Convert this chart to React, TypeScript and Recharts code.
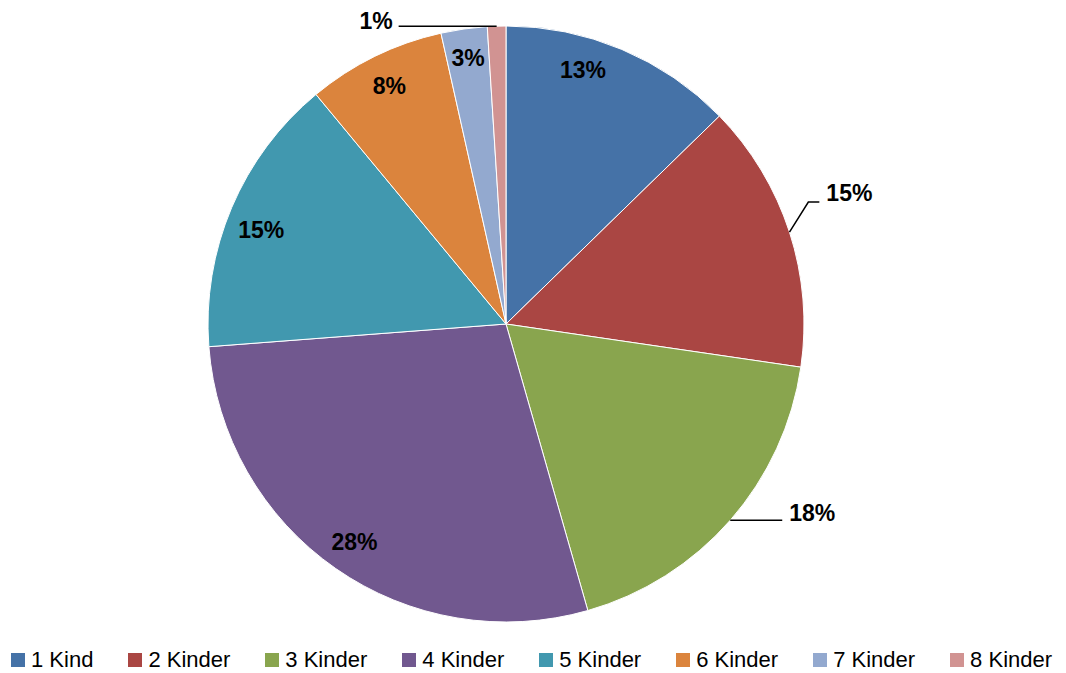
import { PieChart, Pie, Cell, Legend } from 'recharts';

const categories = ['1 Kind', '2 Kinder', '3 Kinder', '4 Kinder', '5 Kinder', '6 Kinder', '7 Kinder', '8 Kinder'];
const shares = [12.7, 14.6, 18.25, 28.2, 15.2, 7.5, 2.5, 1.0];

const COLORS = ['#4572A7', '#AA4643', '#89A54E', '#71588F', '#4198AF', '#DB843D', '#93A9CF', '#D19392'];

const data = categories.map((name, i) => ({ name, value: shares[i] }));

const RAD = Math.PI / 180;

// where each percentage label sits: inside the slice, or outside with a leader line
// shift is in degrees clockwise, run is the horizontal part of the leader line
const PLACEMENT = [
  { inside: true, r: 0.89, shift: -6 },
  { inside: false, elbowR: 1.094, shift: -4, run: 11, dy: -9 },
  { inside: false, elbowR: 1, shift: 0, run: 52, dy: -7 },
  { inside: true, r: 0.89, shift: 0 },
  { inside: true, r: 0.88, shift: -2 },
  { inside: true, r: 0.89, shift: 0 },
  { inside: true, r: 0.9, shift: 0 },
  { inside: false, elbowR: 1, shift: 0, run: -98, dy: -5 },
];

const labelFont = {
  fontFamily: '"Liberation Sans", Arial, sans-serif',
  fontWeight: 700,
  fontSize: 23,
  fill: '#000',
};

function point(cx: number, cy: number, r: number, compass: number) {
  return { x: cx + r * Math.sin(compass * RAD), y: cy - r * Math.cos(compass * RAD) };
}

function renderLabel(props: any) {
  const { cx, cy, midAngle, outerRadius, index, value } = props;
  const p = PLACEMENT[index];
  const compass = 90 - midAngle;
  const text = `${Math.round(value)}%`;

  if (p.inside) {
    const pos = point(cx, cy, outerRadius * p.r, compass + p.shift);
    return (
      <text x={pos.x} y={pos.y} textAnchor="middle" dominantBaseline="central" style={labelFont}>
        {text}
      </text>
    );
  }

  const start = point(cx, cy, outerRadius, compass);
  const elbow = point(cx, cy, outerRadius * p.elbowR, compass + p.shift);
  const end = { x: elbow.x + p.run, y: elbow.y };
  const right = p.run > 0;
  return (
    <g>
      <polyline
        points={`${start.x},${start.y} ${elbow.x},${elbow.y} ${end.x},${end.y}`}
        fill="none"
        stroke="#000"
        strokeWidth={1.5}
      />
      <text
        x={end.x + (right ? 7 : -6)}
        y={end.y + p.dy}
        textAnchor={right ? 'start' : 'end'}
        dominantBaseline="central"
        style={labelFont}
      >
        {text}
      </text>
    </g>
  );
}

function renderLegend() {
  return (
    <div
      style={{
        display: 'flex',
        alignItems: 'center',
        gap: 35,
        paddingLeft: 11,
        fontFamily: '"Liberation Sans", Arial, sans-serif',
        fontSize: 22,
        color: '#000',
        whiteSpace: 'nowrap',
      }}
    >
      {categories.map((name, i) => (
        <div key={name} style={{ display: 'flex', alignItems: 'center', flexShrink: 0 }}>
          <span style={{ width: 14, height: 14, background: COLORS[i], marginRight: 6, display: 'inline-block' }} />
          <span>{name}</span>
        </div>
      ))}
    </div>
  );
}

export default function App() {
  return (
    <div style={{ position: 'absolute', left: 0, top: 0, background: '#fff' }}>
      <PieChart width={1066} height={673} margin={{ top: 0, right: 0, bottom: 0, left: 0 }}>
        <Pie
          data={data}
          dataKey="value"
          nameKey="name"
          cx={506}
          cy={324}
          outerRadius={298}
          startAngle={90}
          endAngle={-270}
          stroke="#fff"
          strokeWidth={1}
          label={renderLabel}
          labelLine={false}
          isAnimationActive={false}
        >
          {data.map((d, i) => (
            <Cell key={d.name} fill={COLORS[i]} />
          ))}
        </Pie>
        <Legend
          content={renderLegend}
          wrapperStyle={{ position: 'absolute', left: 0, top: 647, width: 1066, height: 26 }}
        />
      </PieChart>
    </div>
  );
}
